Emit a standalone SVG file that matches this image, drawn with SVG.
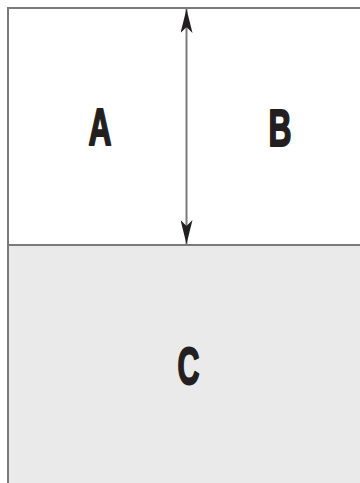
<svg xmlns="http://www.w3.org/2000/svg" width="360" height="483" viewBox="0 0 360 483">
<style>
.frame{stroke:#7a7a7a;stroke-width:2;fill:none}
.lbl{font-family:"Liberation Sans Narrow","Liberation Sans",sans-serif;font-weight:bold;font-size:51px;fill:#231f20;stroke:#231f20;stroke-width:2;stroke-linejoin:round;text-anchor:middle}
</style>
<defs>
<marker id="ah" viewBox="0 0 24 12" refX="24" refY="6" markerWidth="24" markerHeight="12" markerUnits="userSpaceOnUse" orient="auto-start-reverse">
<path d="M0,0 L24,6 L0,12 L6,6 Z" fill="#231f20"/>
</marker>
</defs>
<rect x="8" y="245" width="352" height="238" fill="#e9eae9"/>
<g id="frame">
<path class="frame" d="M8,483 V8 H360"/>
<path class="frame" d="M8,245 H360"/>
</g>
<g id="A"><text class="lbl" x="100" y="145" textLength="23" lengthAdjust="spacingAndGlyphs">A</text></g>
<g id="B"><text class="lbl" x="280" y="146" textLength="23" lengthAdjust="spacingAndGlyphs">B</text></g>
<g id="C"><text class="lbl" x="188.5" y="384" textLength="22" lengthAdjust="spacingAndGlyphs">C</text></g>
<g id="connectors">
<line x1="186.5" y1="9" x2="186.5" y2="244" stroke="#7a7a7a" stroke-width="2" marker-start="url(#ah)" marker-end="url(#ah)"/>
</g>
</svg>
